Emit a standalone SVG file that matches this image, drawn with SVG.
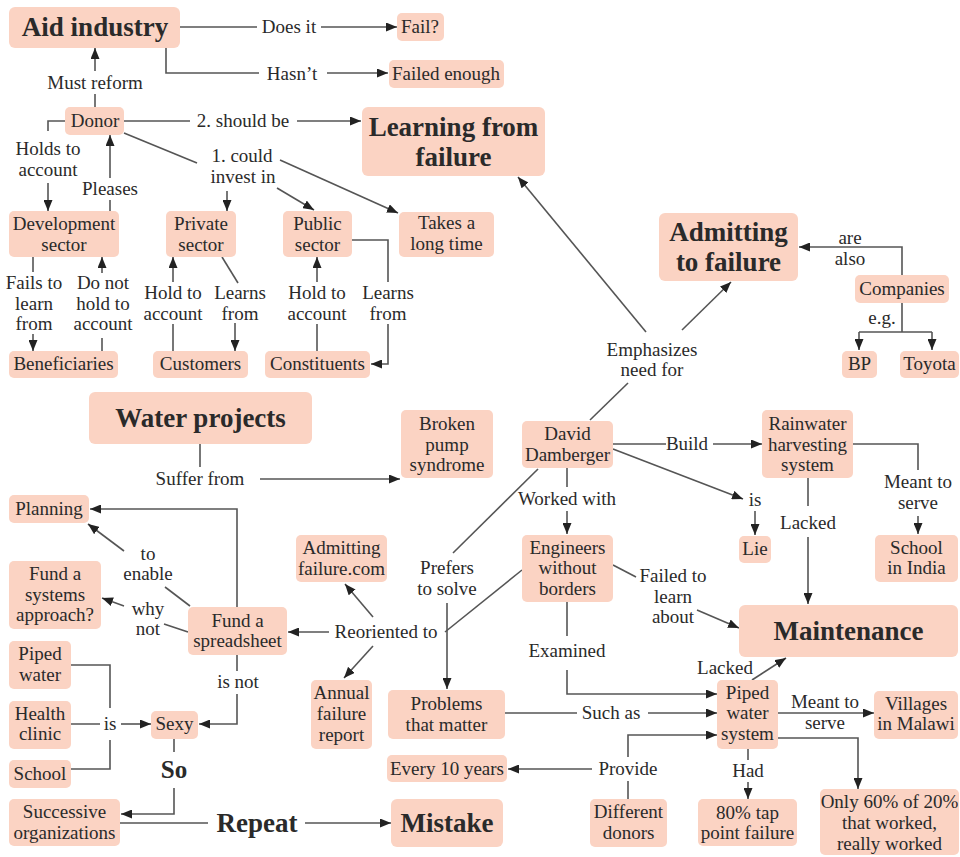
<svg xmlns="http://www.w3.org/2000/svg" width="960" height="857" viewBox="0 0 960 857">
<style>
.n rect{fill:#fbd3c3;}
text{font-family:"Liberation Serif","DejaVu Serif",serif;font-size:19px;fill:#2a2a2a;text-anchor:middle;}
.b{font-weight:bold;font-size:27px;}
.c path{fill:none;stroke:#555;stroke-width:1.6;}
.c path.a{marker-end:url(#ah);}
</style>
<defs>
<marker id="ah" markerUnits="userSpaceOnUse" markerWidth="11" markerHeight="9" refX="11" refY="4.5" orient="auto">
<path d="M0,0 L11,4.5 L0,9 z" fill="#222"/>
</marker>
</defs>
<rect width="960" height="857" fill="#fff"/>

<g id="connectors" class="c">
<path d="M180,27 H257"/><path class="a" d="M321,27 H397"/>
<path d="M166,48 V73 H259"/><path class="a" d="M327,73 H388"/>
<path d="M95,107 V94"/><path class="a" d="M95,71 V48"/>
<path d="M65,121 H48 V131"/><path class="a" d="M48,183 V211"/>
<path d="M110,211 V200"/><path class="a" d="M110,178 V135"/>
<path d="M124,121 H190"/><path class="a" d="M297,121 H361"/>
<path d="M124,133 L197,163"/>
<path class="a" d="M227,191 V211"/>
<path class="a" d="M277,188 L314,210"/>
<path class="a" d="M280,160 L398,213"/>
<path d="M173,351 V324"/><path class="a" d="M173,282 V257"/>
<path d="M222,257 L238,283"/><path class="a" d="M235,323 V351"/>
<path d="M317,351 V324"/><path class="a" d="M317,282 V257"/>
<path d="M352,240 H388 V282"/><path class="a" d="M388,324 V364 H371"/>
<path d="M33,257 V272"/><path class="a" d="M33,334 V351"/>
<path d="M102,351 V338"/><path class="a" d="M102,273 V257"/>
<path d="M200,444 V467"/><path class="a" d="M260,479 H400"/>
<path d="M590,420 L628,383"/>
<path class="a" d="M646,332 L518,177"/>
<path class="a" d="M682,330 L731,282"/>
<path class="a" d="M902,275 V247 H799"/>
<path d="M902,303 V332 M859,332 H932"/><path class="a" d="M859,332 V350"/><path class="a" d="M932,332 V350"/>
<path d="M613,444 H666"/><path class="a" d="M713,444 H762"/>
<path class="a" d="M613,449 L743,499"/><path class="a" d="M755,511 V535"/>
<path d="M853,444 H918 V470"/><path class="a" d="M918,516 V534"/>
<path d="M808,478 V506"/><path class="a" d="M808,537 V604"/>
<path d="M567,468 V487"/><path class="a" d="M567,511 V534"/>
<path d="M538,469 L453,553"/><path class="a" d="M447,603 V689"/>
<path d="M522,570 L445,632"/>
<path class="a" d="M329,632 H288"/>
<path class="a" d="M373,617 L345,584"/>
<path class="a" d="M373,646 L344,678"/>
<path class="a" d="M237,607 V509 H90"/>
<path d="M190,606 L165,587"/><path class="a" d="M124,551 L88,524"/>
<path d="M188,632 L164,624"/><path class="a" d="M124,606 L102,598"/>
<path d="M237,655 V671"/><path class="a" d="M237,694 V724 H199"/>
<path d="M71,665 H110 V708 M71,724 H100 M71,769 H110 V740"/><path class="a" d="M121,724 H151"/>
<path d="M174,739 V752"/><path class="a" d="M174,788 V814 H121"/>
<path d="M120,823 H208"/><path class="a" d="M305,823 H391"/>
<path d="M613,565 L636,577"/><path class="a" d="M697,610 L739,628"/>
<path d="M567,602 V636"/><path class="a" d="M567,670 V694 H717"/>
<path d="M505,713 H577"/><path class="a" d="M648,713 H717"/>
<path d="M628,799 V781"/><path class="a" d="M628,757 V735 H717"/>
<path class="a" d="M592,769 H508"/>
<path class="a" d="M752,680 L786,658"/>
<path class="a" d="M778,713 H874"/>
<path class="a" d="M778,738 H858 V789"/>
<path d="M748,749 V760"/><path class="a" d="M748,782 V799"/>
</g>

<g id="labels">
<text x="289" y="33">Does it</text>
<text x="292" y="80">Hasn’t</text>
<text x="95" y="89">Must reform</text>
<text x="48" y="155">Holds to</text>
<text x="48" y="176">account</text>
<text x="110" y="195">Pleases</text>
<text x="243" y="127">2. should be</text>
<text x="242" y="162">1. could</text>
<text x="243" y="183">invest in</text>
<text x="173" y="299">Hold to</text>
<text x="173" y="320">account</text>
<text x="240" y="299">Learns</text>
<text x="240" y="320">from</text>
<text x="317" y="299">Hold to</text>
<text x="317" y="320">account</text>
<text x="388" y="299">Learns</text>
<text x="388" y="320">from</text>
<text x="34" y="289">Fails to</text>
<text x="34" y="310">learn</text>
<text x="34" y="330">from</text>
<text x="103" y="289">Do not</text>
<text x="103" y="310">hold to</text>
<text x="103" y="330">account</text>
<text x="200" y="485">Suffer from</text>
<text x="652" y="356">Emphasizes</text>
<text x="652" y="376">need for</text>
<text x="850" y="244">are</text>
<text x="850" y="265">also</text>
<text x="882" y="324">e.g.</text>
<text x="687" y="450">Build</text>
<text x="755" y="506">is</text>
<text x="918" y="488">Meant to</text>
<text x="918" y="509">serve</text>
<text x="808" y="529">Lacked</text>
<text x="567" y="505">Worked with</text>
<text x="447" y="574">Prefers</text>
<text x="447" y="595">to solve</text>
<text x="386" y="638">Reoriented to</text>
<text x="148" y="560">to</text>
<text x="148" y="580">enable</text>
<text x="148" y="615">why</text>
<text x="148" y="635">not</text>
<text x="238" y="688">is not</text>
<text x="110" y="730">is</text>
<text class="b" x="174" y="778" style="font-size:25px">So</text>
<text class="b" x="257" y="832">Repeat</text>
<text x="673" y="582">Failed to</text>
<text x="673" y="603">learn</text>
<text x="673" y="623">about</text>
<text x="567" y="657">Examined</text>
<text x="611" y="719">Such as</text>
<text x="628" y="775">Provide</text>
<text x="725" y="674">Lacked</text>
<text x="825" y="708">Meant to</text>
<text x="825" y="729">serve</text>
<text x="748" y="777">Had</text>
</g>

<g id="aid" class="n"><rect x="9" y="7" width="171" height="41" rx="6"/><text class="b" x="95" y="36">Aid industry</text></g>
<g id="fail" class="n"><rect x="397" y="13" width="47" height="28" rx="5"/><text x="420" y="33">Fail?</text></g>
<g id="failed-enough" class="n"><rect x="389" y="60" width="115" height="28" rx="5"/><text x="446" y="80">Failed enough</text></g>
<g id="donor" class="n"><rect x="65" y="107" width="59" height="28" rx="5"/><text x="95" y="127">Donor</text></g>
<g id="learning" class="n"><rect x="362" y="107" width="183" height="69" rx="6"/><text class="b" x="453.5" y="136">Learning from</text><text class="b" x="453.5" y="166">failure</text></g>
<g id="dev" class="n"><rect x="9" y="211" width="110" height="46" rx="5"/><text x="64" y="230">Development</text><text x="64" y="251">sector</text></g>
<g id="private" class="n"><rect x="166" y="211" width="70" height="46" rx="5"/><text x="201" y="230">Private</text><text x="201" y="251">sector</text></g>
<g id="public" class="n"><rect x="283" y="211" width="69" height="46" rx="5"/><text x="317.5" y="230">Public</text><text x="317.5" y="251">sector</text></g>
<g id="takes" class="n"><rect x="399" y="212" width="95" height="45" rx="5"/><text x="446.5" y="229">Takes a</text><text x="446.5" y="250">long time</text></g>
<g id="admitting" class="n"><rect x="659" y="213" width="139" height="68" rx="6"/><text class="b" x="728.5" y="241">Admitting</text><text class="b" x="728.5" y="271">to failure</text></g>
<g id="companies" class="n"><rect x="855" y="275" width="94" height="28" rx="5"/><text x="902" y="295">Companies</text></g>
<g id="beneficiaries" class="n"><rect x="9" y="351" width="109" height="27" rx="5"/><text x="63.5" y="370">Beneficiaries</text></g>
<g id="customers" class="n"><rect x="153" y="351" width="95" height="27" rx="5"/><text x="200.5" y="370">Customers</text></g>
<g id="constituents" class="n"><rect x="265" y="351" width="105" height="27" rx="5"/><text x="317.5" y="370">Constituents</text></g>
<g id="bp" class="n"><rect x="842" y="351" width="35" height="27" rx="5"/><text x="859.5" y="370">BP</text></g>
<g id="toyota" class="n"><rect x="900" y="351" width="59" height="27" rx="5"/><text x="929.5" y="370">Toyota</text></g>
<g id="water" class="n"><rect x="89" y="392" width="223" height="52" rx="6"/><text class="b" x="200.5" y="427">Water projects</text></g>
<g id="broken" class="n"><rect x="401" y="410" width="92" height="68" rx="5"/><text x="447" y="430">Broken</text><text x="447" y="451">pump</text><text x="447" y="471">syndrome</text></g>
<g id="david" class="n"><rect x="522" y="421" width="91" height="47" rx="5"/><text x="567.5" y="440">David</text><text x="567.5" y="461">Damberger</text></g>
<g id="rainwater" class="n"><rect x="762" y="410" width="91" height="68" rx="5"/><text x="807.5" y="430">Rainwater</text><text x="807.5" y="451">harvesting</text><text x="807.5" y="471">system</text></g>
<g id="planning" class="n"><rect x="9" y="495" width="80" height="28" rx="5"/><text x="49" y="515">Planning</text></g>
<g id="lie" class="n"><rect x="739" y="536" width="32" height="27" rx="5"/><text x="755" y="555">Lie</text></g>
<g id="school-india" class="n"><rect x="875" y="535" width="83" height="47" rx="5"/><text x="916.5" y="554">School</text><text x="916.5" y="574">in India</text></g>
<g id="engineers" class="n"><rect x="522" y="535" width="91" height="67" rx="5"/><text x="567.5" y="554">Engineers</text><text x="567.5" y="574">without</text><text x="567.5" y="595">borders</text></g>
<g id="admitting-com" class="n"><rect x="296" y="535" width="91" height="47" rx="5"/><text x="341.5" y="554">Admitting</text><text x="341.5" y="575">failure.com</text></g>
<g id="fund-systems" class="n"><rect x="9" y="561" width="92" height="68" rx="5"/><text x="55" y="580">Fund a</text><text x="55" y="601">systems</text><text x="55" y="621">approach?</text></g>
<g id="maintenance" class="n"><rect x="739" y="605" width="219" height="52" rx="6"/><text class="b" x="848.5" y="640">Maintenance</text></g>
<g id="fund-spreadsheet" class="n"><rect x="188" y="607" width="99" height="48" rx="5"/><text x="237.5" y="627">Fund a</text><text x="237.5" y="647">spreadsheet</text></g>
<g id="piped-water" class="n"><rect x="9" y="641" width="62" height="48" rx="5"/><text x="40" y="660">Piped</text><text x="40" y="681">water</text></g>
<g id="annual" class="n"><rect x="311" y="680" width="61" height="69" rx="5"/><text x="341.5" y="699">Annual</text><text x="341.5" y="720">failure</text><text x="341.5" y="741">report</text></g>
<g id="piped-system" class="n"><rect x="717" y="680" width="61" height="69" rx="5"/><text x="747.5" y="699">Piped</text><text x="747.5" y="719">water</text><text x="747.5" y="740">system</text></g>
<g id="problems" class="n"><rect x="388" y="690" width="117" height="49" rx="5"/><text x="446.5" y="710">Problems</text><text x="446.5" y="731">that matter</text></g>
<g id="villages" class="n"><rect x="874" y="691" width="84" height="48" rx="5"/><text x="916" y="710">Villages</text><text x="916" y="730">in Malawi</text></g>
<g id="health" class="n"><rect x="9" y="701" width="62" height="48" rx="5"/><text x="40" y="720">Health</text><text x="40" y="740">clinic</text></g>
<g id="sexy" class="n"><rect x="151" y="711" width="47" height="28" rx="5"/><text x="174.5" y="730">Sexy</text></g>
<g id="every10" class="n"><rect x="387" y="755" width="120" height="27" rx="5"/><text x="447" y="775">Every 10 years</text></g>
<g id="school" class="n"><rect x="9" y="760" width="62" height="28" rx="5"/><text x="40" y="780">School</text></g>
<g id="only60" class="n"><rect x="820" y="789" width="139" height="66" rx="5"/><text x="889.5" y="808">Only 60% of 20%</text><text x="889.5" y="829">that worked,</text><text x="889.5" y="850">really worked</text></g>
<g id="successive" class="n"><rect x="9" y="799" width="111" height="47" rx="5"/><text x="64.5" y="818">Successive</text><text x="64.5" y="839">organizations</text></g>
<g id="mistake" class="n"><rect x="391" y="799" width="112" height="48" rx="6"/><text class="b" x="447" y="832">Mistake</text></g>
<g id="donors" class="n"><rect x="590" y="799" width="77" height="48" rx="5"/><text x="628.5" y="818">Different</text><text x="628.5" y="839">donors</text></g>
<g id="tap80" class="n"><rect x="698" y="799" width="99" height="47" rx="5"/><text x="747.5" y="819">80% tap</text><text x="747.5" y="839">point failure</text></g>
</svg>
